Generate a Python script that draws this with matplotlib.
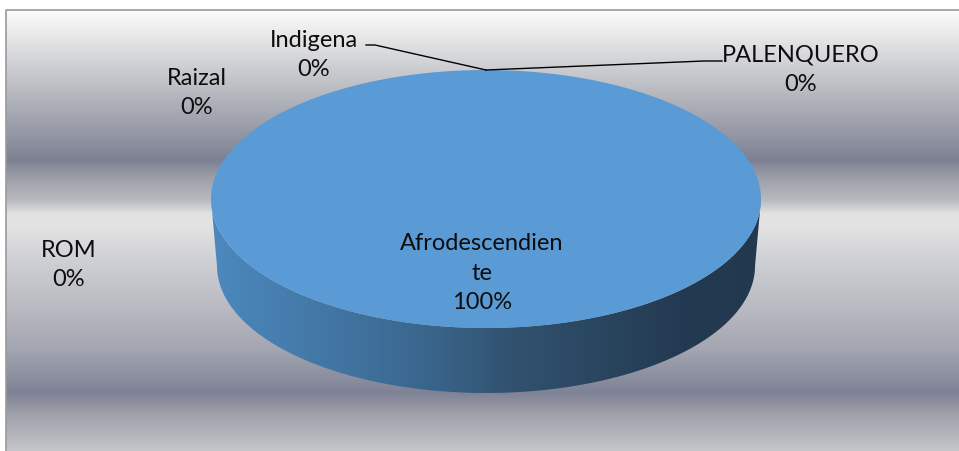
import textwrap
import numpy as np
import matplotlib.pyplot as plt
from matplotlib.colors import LinearSegmentedColormap, to_rgb
from matplotlib.patches import Polygon

# data
categories = ['Afrodescendiente', 'PALENQUERO', 'Indigena', 'Raizal', 'ROM']
values = [100, 0, 0, 0, 0]

# layout (pixels)
W, H = 959, 451
CX, CY, A, B = 486, 199, 275, 129          # top face
BCY, BA, BB = 266, 269, 127                # bottom rim (slight perspective)
TOP_COLOR = '#5b9bd5'
FONT = 'Lato'
FS = 17

# label block centres, one per category
label_pos = {
    'Afrodescendiente': (482, 273),
    'PALENQUERO': (801, 70),
    'Indigena': (314, 55),
    'Raizal': (197, 93),
    'ROM': (69, 265),
}
# leader line elbows for the labels that need one
leaders = {
    'Indigena': [(366, 45), (375, 45)],
    'PALENQUERO': [(722, 61), (704, 61)],
}

fig = plt.figure(figsize=(W / 100, H / 100), dpi=100)
ax = fig.add_axes([0, 0, 1, 1])
ax.set_xlim(0, W)
ax.set_ylim(H, 0)
ax.axis('off')

# banded grey background
stops = [(10, '#fbfbfb'), (30, '#ececec'), (60, '#d3d4d7'), (100, '#b1b3bb'),
         (140, '#8f92a0'), (160, '#7c8092'), (176, '#9a9ca7'), (200, '#b9bac1'),
         (214, '#e3e3e3'), (228, '#e2e2e3'), (260, '#cfd0d4'), (300, '#bdbec5'),
         (350, '#a3a5b0'), (393, '#7e8295'), (412, '#9b9da8'), (451, '#c6c7cb')]
ys = np.arange(10, H + 1)
sy = [s[0] for s in stops]
rgb = np.array([to_rgb(s[1]) for s in stops])
bg = np.stack([np.interp(ys, sy, rgb[:, k]) for k in range(3)], axis=-1)
ax.imshow(bg[:, None, :].repeat(2, axis=1), extent=[6, W, H, 10], aspect='auto',
          interpolation='bilinear', zorder=0)
ax.plot([6, 6, W], [H, 10, 10], color='#9a9a9a', lw=1.2, zorder=1)

side_cmap = LinearSegmentedColormap.from_list(
    'side', [(0, '#4c89be'), (0.35, '#3c6a93'), (0.55, '#31526f'),
             (0.85, '#233b52'), (1, '#22384e')])

total = sum(values)
cum = 0
anchors = {}
for name, v in zip(categories, values):
    t0 = np.radians(90 - 360 * cum / total)
    t1 = np.radians(90 - 360 * (cum + v) / total)
    anchors[name] = (CX + A * np.cos(t0), CY - B * np.sin(t0))
    cum += v
    if v == 0:
        continue
    t = np.linspace(t0, t1, 720)
    # front side wall
    front = t[np.sin(t) <= 0]
    if len(front):
        upper = np.column_stack([CX + A * np.cos(front), CY - B * np.sin(front)])
        lower = np.column_stack([CX + BA * np.cos(front), BCY - BB * np.sin(front)])
        side = Polygon(np.vstack([upper, lower[::-1]]), closed=True,
                       facecolor='none', edgecolor='none', zorder=2)
        ax.add_patch(side)
        grad = ax.imshow(np.linspace(0, 1, 256)[None, :], cmap=side_cmap,
                         extent=[CX - A, CX + A, BCY + BB, CY], aspect='auto', zorder=2)
        grad.set_clip_path(side)
    # top face
    pts = np.column_stack([CX + A * np.cos(t), CY - B * np.sin(t)])
    if v < total:
        pts = np.vstack([[CX, CY], pts])
    ax.add_patch(Polygon(pts, closed=True, facecolor=TOP_COLOR, edgecolor='none', zorder=3))

for name, v in zip(categories, values):
    x, y = label_pos[name]
    txt = textwrap.fill(name, 14) + f'\n{100 * v / total:.0f}%'
    ax.text(x, y, txt, ha='center', va='center', fontsize=FS, family=FONT,
            color='#0d0d0d', linespacing=1.52, zorder=5)
    if name in leaders:
        pts = leaders[name] + [anchors[name]]
        ax.plot([p[0] for p in pts], [p[1] for p in pts], color='black', lw=1, zorder=4)

fig.savefig('out.png', dpi=100)
